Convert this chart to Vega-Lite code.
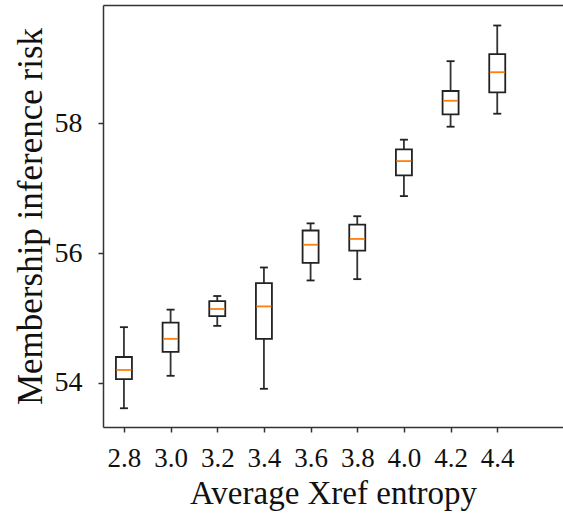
{
  "$schema": "https://vega.github.io/schema/vega-lite/v6.json",
  "width": 460,
  "height": 422,
  "autosize": {"type": "none"},
  "padding": {"left": 103, "top": 5, "right": 0, "bottom": 90},
  "background": "white",
  "config": {
    "view": {"stroke": null},
    "axis": {
      "grid": false,
      "domainColor": "#333",
      "domainWidth": 1.5,
      "tickColor": "#333",
      "tickWidth": 1.5,
      "tickSize": 5,
      "labelFont": "Liberation Serif",
      "titleFont": "Liberation Serif",
      "labelColor": "#111",
      "titleColor": "#111",
      "titleFontWeight": "normal"
    }
  },
  "data": {
    "values": [
      {"x": 2.8, "lower": 53.61, "q1": 54.06, "median": 54.20, "q3": 54.40, "upper": 54.86},
      {"x": 3.0, "lower": 54.11, "q1": 54.48, "median": 54.68, "q3": 54.93, "upper": 55.13},
      {"x": 3.2, "lower": 54.88, "q1": 55.03, "median": 55.14, "q3": 55.26, "upper": 55.34},
      {"x": 3.4, "lower": 53.91, "q1": 54.68, "median": 55.18, "q3": 55.54, "upper": 55.78},
      {"x": 3.6, "lower": 55.58, "q1": 55.85, "median": 56.13, "q3": 56.35, "upper": 56.46},
      {"x": 3.8, "lower": 55.60, "q1": 56.04, "median": 56.22, "q3": 56.44, "upper": 56.57},
      {"x": 4.0, "lower": 56.88, "q1": 57.20, "median": 57.42, "q3": 57.60, "upper": 57.75},
      {"x": 4.2, "lower": 57.95, "q1": 58.14, "median": 58.35, "q3": 58.50, "upper": 58.96},
      {"x": 4.4, "lower": 58.15, "q1": 58.48, "median": 58.79, "q3": 59.07, "upper": 59.51}
    ]
  },
  "resolve": {"axis": {"x": "independent"}},
  "layer": [
    {
      "mark": {"type": "rule", "color": "#333", "strokeWidth": 1.8},
      "encoding": {
        "x": {
          "field": "x", "type": "quantitative",
          "scale": {"domain": [2.7317, 4.6604], "nice": false, "zero": false},
          "axis": {
            "orient": "bottom",
            "values": [2.8, 3.0, 3.2, 3.4, 3.6, 3.8, 4.0, 4.2, 4.4],
            "format": ".1f",
            "labelFontSize": 27,
            "labelPadding": 13,
            "title": "Average Xref entropy",
            "titleFontSize": 33,
            "titlePadding": 6
          }
        },
        "y": {
          "field": "lower", "type": "quantitative",
          "scale": {"domain": [53.321, 59.826], "nice": false, "zero": false},
          "axis": {
            "values": [54, 56, 58],
            "format": "d",
            "labelFontSize": 28,
            "labelPadding": 16,
            "title": "Membership inference risk",
            "titleFontSize": 35,
            "titlePadding": 6
          }
        },
        "y2": {"field": "upper"}
      }
    },
    {
      "mark": {"type": "bar", "orient": "vertical", "size": 16, "fill": "white", "stroke": "#222", "strokeWidth": 1.8},
      "encoding": {
        "x": {"field": "x", "type": "quantitative", "axis": null},
        "y": {"field": "q1", "type": "quantitative"},
        "y2": {"field": "q3"}
      }
    },
    {
      "mark": {"type": "tick", "orient": "horizontal", "size": 15, "thickness": 1.8, "color": "#ff7f0e", "opacity": 1},
      "encoding": {
        "x": {"field": "x", "type": "quantitative", "axis": null},
        "y": {"field": "median", "type": "quantitative"}
      }
    },
    {
      "mark": {"type": "tick", "orient": "horizontal", "size": 8, "thickness": 1.8, "color": "#222", "opacity": 1},
      "encoding": {
        "x": {"field": "x", "type": "quantitative",
          "axis": {"orient": "top", "labels": false, "ticks": false, "title": null, "domain": true}},
        "y": {"field": "upper", "type": "quantitative"}
      }
    },
    {
      "mark": {"type": "tick", "orient": "horizontal", "size": 8, "thickness": 1.8, "color": "#222", "opacity": 1},
      "encoding": {
        "x": {"field": "x", "type": "quantitative", "axis": null},
        "y": {"field": "lower", "type": "quantitative"}
      }
    }
  ]
}
